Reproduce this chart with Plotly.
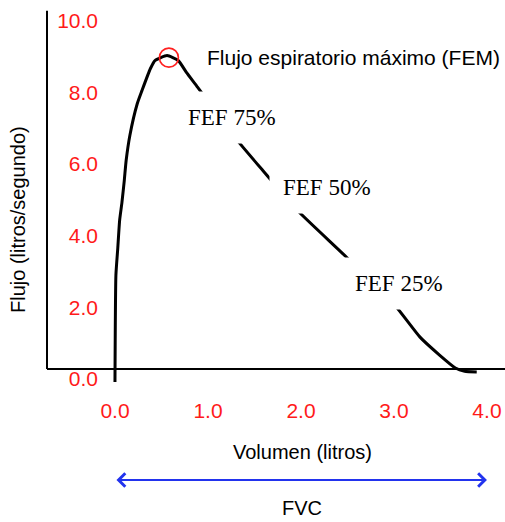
import plotly.graph_objects as go

# ---- data ----
volume = [0.0, 0.01, 0.03, 0.05, 0.075, 0.10, 0.12, 0.16, 0.24, 0.29, 0.38, 0.43, 0.56,
          0.68, 0.77, 0.89, 1.30, 1.59, 1.96, 2.49, 3.01, 3.28, 3.49, 3.66, 3.76, 3.89]
flow = [-0.36, 2.62, 3.37, 4.15, 4.65, 5.26, 5.82, 6.52, 7.41, 7.77, 8.38, 8.61, 8.75,
        8.61, 8.27, 7.86, 6.43, 5.54, 4.43, 3.12, 1.78, 0.89, 0.39, 0.03, -0.06, -0.08]

pef_volume = 0.58
pef_flow = 8.69
pef_label = "Flujo espiratorio máximo (FEM)"

fef_labels = ["FEF 75%", "FEF 50%", "FEF 25%"]
fef_volume = [1.258, 2.285, 3.054]
fef_flow = [7.03, 5.08, 2.38]

x_ticks = [0, 1, 2, 3, 4]
x_ticktext = ["0.0", "1.0", "2.0", "3.0", "4.0"]
y_ticks = [0, 2, 4, 6, 8, 10]
y_ticktext = ["0.0", "2.0", "4.0", "6.0", "8.0", "10.0"]

fvc_start = 0.0
fvc_end = 4.0

x_title = "Volumen (litros)"
y_title = "Flujo (litros/segundo)"
fvc_title = "FVC"

SANS = "Liberation Sans, Arial, sans-serif"
SERIF = "Liberation Serif, Times New Roman, serif"
RED = "#ff1a1a"

fig = go.Figure()

fig.add_trace(go.Scatter(
    x=volume, y=flow, mode="lines",
    line=dict(color="black", width=3, shape="spline", smoothing=0.5),
    hoverinfo="skip", showlegend=False,
))

fig.add_trace(go.Scatter(
    x=[pef_volume], y=[pef_flow], mode="markers",
    marker=dict(symbol="circle-open", size=19, color="#ff2020", line=dict(width=1.6)),
    hoverinfo="skip", showlegend=False, cliponaxis=False,
))

annotations = []
for lab, vx, fy in zip(fef_labels, fef_volume, fef_flow):
    annotations.append(dict(
        x=vx, y=fy, xref="x", yref="y", text=lab, showarrow=False,
        xanchor="center", yanchor="middle",
        font=dict(family=SERIF, size=23, color="black"),
        bgcolor="white", borderpad=13,
    ))

annotations.append(dict(
    x=pef_volume, y=pef_flow, xref="x", yref="y", text=pef_label, showarrow=False,
    xanchor="left", yanchor="middle", xshift=36,
    font=dict(family=SANS, size=21, color="black"),
))

# axis titles
annotations.append(dict(
    x=-0.0633, y=0.44, xref="paper", yref="paper", text=y_title, showarrow=False,
    xanchor="center", yanchor="middle",
    textangle=-90, font=dict(family=SANS, size=20, color="black"),
))
annotations.append(dict(
    x=0.5568, y=-0.1787, xref="paper", yref="paper", text=x_title, showarrow=False,
    xanchor="center", yanchor="middle",
    font=dict(family=SANS, size=20, color="black"),
))
annotations.append(dict(
    x=0.5568, y=-0.328, xref="paper", yref="paper", text=fvc_title, showarrow=False,
    xanchor="center", yanchor="middle",
    font=dict(family=SANS, size=20, color="black"),
))
# FVC double arrow
annotations.append(dict(
    x=fvc_end, y=-0.2533, xref="x", yref="paper",
    ax=fvc_start, ay=0, axref="x", ayref="pixel",
    text="", showarrow=True, arrowside="end+start", arrowhead=4,
    arrowsize=1.3, arrowwidth=2, arrowcolor="#2233ee",
))

y_lo = -0.446
y_hi = 10.02

fig.update_layout(
    width=505, height=522,
    margin=dict(l=47, r=0, t=10, b=137),
    paper_bgcolor="white", plot_bgcolor="white",
    showlegend=False,
    xaxis=dict(
        range=[-0.731, 4.194], anchor="free", position=(0 - y_lo) / (y_hi - y_lo),
        showline=True, linecolor="black", linewidth=2, showgrid=False, zeroline=False,
        tickvals=x_ticks, ticktext=x_ticktext, ticks="", automargin=False,
        tickfont=dict(family=SANS, size=21, color=RED),
        ticklabelstandoff=23,
    ),
    yaxis=dict(
        range=[y_lo, y_hi], anchor="free", position=(98 - 47) / 458,
        showline=False, showgrid=False, zeroline=False, automargin=False,
        tickvals=y_ticks, ticktext=y_ticktext, ticks="",
        tickfont=dict(family=SANS, size=21, color=RED),
        ticklabelshift=10, ticklabelstandoff=0,
    ),
    shapes=[dict(
        type="line", xref="paper", yref="y", x0=0, x1=0, y0=0, y1=10,
        line=dict(color="black", width=2),
    )],
    annotations=annotations,
)

fig.write_html(
    "out.html",
    config={"displayModeBar": False},
    post_script="document.body.style.margin='0px';document.body.style.overflow='hidden';",
)
